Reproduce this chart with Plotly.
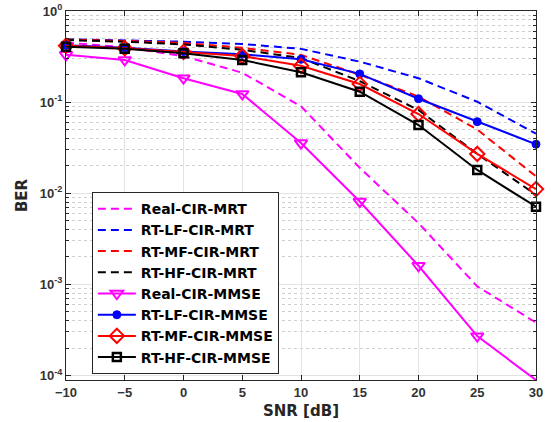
import plotly.graph_objects as go

snr = [-10, -5, 0, 5, 10, 15, 20, 25, 30]

real_mrt = [0.45, 0.40, 0.32, 0.21, 0.09, 0.019, 0.0047, 0.00095, 0.00038]
lf_mrt = [0.49, 0.475, 0.46, 0.435, 0.384, 0.278, 0.183, 0.101, 0.045]
mf_mrt = [0.485, 0.47, 0.445, 0.395, 0.33, 0.200, 0.115, 0.050, 0.0153]
hf_mrt = [0.48, 0.46, 0.43, 0.375, 0.305, 0.170, 0.082, 0.027, 0.0096]

real_mmse = [0.33, 0.29, 0.183, 0.123, 0.0355, 0.0081, 0.0016, 0.00027, 0.000089]
lf_mmse = [0.42, 0.395, 0.36, 0.335, 0.295, 0.204, 0.109, 0.061, 0.0345]
mf_mmse = [0.415, 0.39, 0.355, 0.32, 0.25, 0.158, 0.074, 0.027, 0.0111]
hf_mmse = [0.405, 0.384, 0.344, 0.29, 0.213, 0.13, 0.056, 0.018, 0.0071]

ytick_vals = [1e-4, 1e-3, 1e-2, 1e-1, 1]
ytick_text = ["10<sup>-4</sup>", "10<sup>-3</sup>", "10<sup>-2</sup>", "10<sup>-1</sup>", "10<sup>0</sup>"]
xtick_vals = [-10, -5, 0, 5, 10, 15, 20, 25, 30]

MAG = "#ff00ff"
BLU = "#0000ff"
RED = "#ff0000"
BLK = "#000000"
DASH = "8px,5px"

fig = go.Figure()

def dashed(y, name, color):
    fig.add_trace(go.Scatter(x=snr, y=y, name=name, mode="lines",
                             line=dict(color=color, width=2, dash=DASH)))

dashed(real_mrt, "Real-CIR-MRT", MAG)
dashed(lf_mrt, "RT-LF-CIR-MRT", BLU)
dashed(mf_mrt, "RT-MF-CIR-MRT", RED)
dashed(hf_mrt, "RT-HF-CIR-MRT", BLK)

def solid(y, name, color, symbol, size, lw):
    fig.add_trace(go.Scatter(x=snr, y=y, name=name, mode="lines+markers",
                             line=dict(color=color, width=2),
                             marker=dict(symbol=symbol, size=size, color=color,
                                         line=dict(color=color, width=lw)),
                             cliponaxis=False))

solid(real_mmse, "Real-CIR-MMSE", MAG, "triangle-down-open", 11, 2)
solid(lf_mmse, "RT-LF-CIR-MMSE", BLU, "circle", 8, 1)
solid(mf_mmse, "RT-MF-CIR-MMSE", RED, "diamond-open", 11, 2)
solid(hf_mmse, "RT-HF-CIR-MMSE", BLK, "square-open", 8, 2.5)

minor_vals = [9e-5]
for e in [1e-4, 1e-3, 1e-2, 1e-1]:
    for m in range(2, 10):
        minor_vals.append(m * e)

fig.update_layout(
    width=551, height=422,
    margin=dict(l=66, r=15, t=11, b=42),
    paper_bgcolor="white", plot_bgcolor="white",
    font=dict(family="Liberation Sans", color="#262626"),
    showlegend=True,
    legend=dict(x=0.055, y=0.016, xanchor="left", yanchor="bottom",
                bgcolor="white", bordercolor="#262626", borderwidth=1,
                font=dict(family="DejaVu Sans", size=14, color="#000000", weight="bold"),
                tracegroupgap=0, itemwidth=38),
)

fig.update_xaxes(
    range=[-10, 30], tickvals=xtick_vals, automargin=False,
    ticks="inside", ticklen=5, tickcolor="#262626",
    showline=True, linecolor="#262626", linewidth=1, mirror="allticks",
    showgrid=True, gridcolor="#e3e3e3", gridwidth=1, zeroline=False,
    tickfont=dict(family="Liberation Sans", size=13, color="#333333", weight="bold"),
    title=dict(text="<b>SNR [dB]</b>", font=dict(family="DejaVu Sans", size=15, color="#262626"), standoff=6),
)

fig.update_yaxes(
    type="log", range=[-4.05, 0], automargin=False,
    tickvals=ytick_vals, ticktext=ytick_text,
    ticks="inside", ticklen=5, tickcolor="#262626",
    showline=True, linecolor="#262626", linewidth=1, mirror="allticks",
    showgrid=True, gridcolor="#e3e3e3", gridwidth=1, zeroline=False,
    tickfont=dict(family="Liberation Sans", size=13, color="#333333", weight="bold"),
    minor=dict(tickvals=minor_vals, ticks="inside", ticklen=3, tickcolor="#262626",
               showgrid=True, gridcolor="#cfcfcf", griddash="dot", gridwidth=1),
    title=dict(text="<b>BER</b>", font=dict(family="DejaVu Sans", size=15, color="#262626"), standoff=8),
)

fig.write_html("out.html")
